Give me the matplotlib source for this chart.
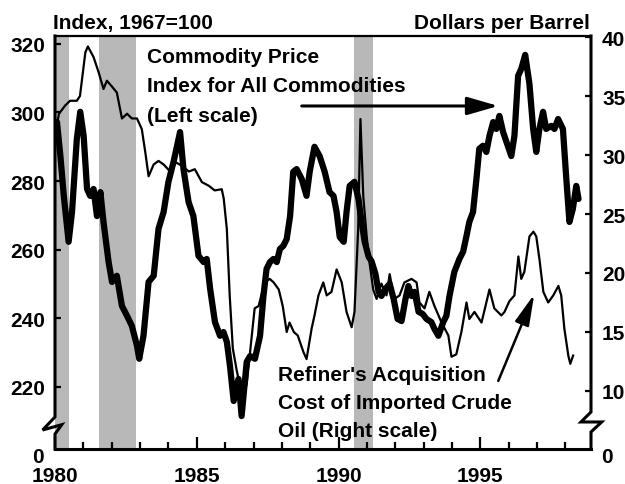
import matplotlib
matplotlib.use("Agg")
import matplotlib.pyplot as plt
from matplotlib.ticker import MultipleLocator

plt.rcParams["font.family"] = ["Liberation Sans", "DejaVu Sans"]
plt.rcParams["font.weight"] = "bold"

# Commodity price index, all commodities (left scale, 1967=100)
comm_years = [1980.07, 1980.19, 1980.31, 1980.48, 1980.60, 1980.77, 1980.89, 1981.01, 1981.13, 1981.24,
              1981.36, 1981.48, 1981.60, 1981.71, 1981.89, 1982.01, 1982.18, 1982.36, 1982.54, 1982.71,
              1982.89, 1982.97, 1983.12, 1983.30, 1983.48, 1983.65, 1983.83, 1984.00, 1984.18, 1984.41,
              1984.53, 1984.71, 1984.88, 1985.06, 1985.24, 1985.35, 1985.47, 1985.64, 1985.82, 1985.94,
              1986.06, 1986.17, 1986.30, 1986.47, 1986.58, 1986.76, 1986.88, 1987.05, 1987.23, 1987.35,
              1987.46, 1987.58, 1987.70, 1987.82, 1987.93, 1988.05, 1988.17, 1988.29, 1988.40, 1988.52,
              1988.70, 1988.87, 1988.98, 1989.15, 1989.33, 1989.51, 1989.68, 1989.82, 1989.93, 1990.04,
              1990.18, 1990.28, 1990.39, 1990.56, 1990.70, 1990.81, 1990.92, 1991.06, 1991.16, 1991.30,
              1991.41, 1991.51, 1991.65, 1991.80, 1991.94, 1992.08, 1992.22, 1992.36, 1992.46, 1992.57,
              1992.68, 1992.82, 1992.96, 1993.10, 1993.27, 1993.38, 1993.52, 1993.69, 1993.80, 1993.91,
              1994.08, 1994.26, 1994.39, 1994.51, 1994.61, 1994.74, 1994.86, 1994.96, 1995.09, 1995.21,
              1995.32, 1995.45, 1995.56, 1995.67, 1995.80, 1995.92, 1996.09, 1996.20, 1996.33, 1996.44,
              1996.58, 1996.73, 1996.86, 1996.97, 1997.08, 1997.21, 1997.32, 1997.50, 1997.61, 1997.74,
              1997.91, 1998.03, 1998.14, 1998.26, 1998.38, 1998.46]
comm_index = [297.2, 287.3, 275.7, 262.3, 271.0, 292.3, 300.2, 293.2, 277.7, 275.7,
              277.7, 269.8, 276.8, 268.1, 256.4, 250.6, 252.4, 243.6, 240.7, 237.8,
              232.0, 228.2, 234.9, 250.6, 252.4, 266.1, 271.0, 279.8, 285.6, 294.3,
              283.5, 273.9, 269.8, 258.2, 256.4, 257.3, 248.6, 238.9, 234.9, 236.0,
              233.1, 226.1, 215.9, 222.3, 211.5, 227.3, 229.0, 228.2, 234.9, 246.5,
              254.4, 256.4, 257.3, 256.4, 260.2, 261.1, 263.1, 269.8, 282.7, 283.5,
              280.6, 275.7, 282.7, 290.0, 287.3, 282.7, 276.8, 275.7, 271.0, 263.7,
              262.3, 271.0, 278.6, 279.8, 274.8, 268.1, 262.3, 257.9, 256.7, 252.9,
              247.7, 246.5, 248.6, 250.0, 245.7, 239.8, 239.2, 245.7, 249.4, 246.5,
              247.7, 241.9, 241.3, 239.8, 238.9, 236.9, 234.9, 238.9, 240.7, 246.5,
              253.5, 257.3, 259.4, 264.0, 268.1, 271.0, 280.6, 289.4, 290.3, 288.5,
              293.2, 297.2, 295.2, 299.0, 294.3, 291.4, 287.3, 293.2, 310.7, 312.7,
              316.8, 308.3, 295.2, 288.5, 295.2, 300.2, 295.2, 296.1, 295.2, 298.1,
              295.2, 280.6, 268.1, 271.9, 278.6, 274.8]

# Refiner's acquisition cost of imported crude oil (right scale, $/barrel)
oil_years = [1980.07, 1980.14, 1980.36, 1980.53, 1980.77, 1980.88, 1981.07, 1981.16, 1981.36, 1981.54,
             1981.71, 1981.83, 1982.01, 1982.18, 1982.36, 1982.54, 1982.71, 1982.89, 1983.06, 1983.18,
             1983.30, 1983.48, 1983.65, 1983.83, 1984.06, 1984.24, 1984.47, 1984.72, 1984.93, 1985.18,
             1985.42, 1985.63, 1985.88, 1985.95, 1986.06, 1986.16, 1986.27, 1986.41, 1986.51, 1986.62,
             1986.76, 1986.87, 1987.04, 1987.18, 1987.39, 1987.57, 1987.71, 1987.89, 1988.03, 1988.17,
             1988.27, 1988.42, 1988.56, 1988.76, 1988.87, 1989.05, 1989.15, 1989.29, 1989.46, 1989.58,
             1989.75, 1989.93, 1990.11, 1990.28, 1990.46, 1990.56, 1990.69, 1990.77, 1990.87, 1990.99,
             1991.09, 1991.22, 1991.34, 1991.51, 1991.69, 1991.80, 1991.97, 1992.15, 1992.32, 1992.57,
             1992.75, 1992.85, 1993.03, 1993.20, 1993.38, 1993.63, 1993.87, 1993.98, 1994.15, 1994.33,
             1994.51, 1994.61, 1994.79, 1995.04, 1995.21, 1995.32, 1995.49, 1995.74, 1995.85, 1996.02,
             1996.20, 1996.34, 1996.44, 1996.55, 1996.73, 1996.87, 1996.97, 1997.08, 1997.22, 1997.39,
             1997.57, 1997.75, 1997.85, 1997.96, 1998.10, 1998.17, 1998.27]
oil_cost = [32.6, 33.5, 34.2, 34.6, 34.6, 35.0, 38.7, 39.2, 38.3, 37.0,
            35.6, 36.3, 35.8, 35.3, 33.1, 33.5, 33.1, 33.1, 32.2, 30.3,
            28.2, 29.2, 29.5, 29.2, 28.6, 29.4, 29.1, 28.6, 28.8, 27.7,
            27.4, 27.0, 27.1, 26.3, 23.7, 18.1, 13.6, 11.7, 10.6, 9.3,
            10.6, 13.1, 17.0, 17.2, 19.2, 19.5, 19.2, 18.6, 17.2, 15.0,
            15.8, 15.0, 14.7, 13.3, 12.7, 15.3, 16.4, 18.1, 19.2, 18.1,
            18.4, 20.3, 19.2, 16.7, 15.4, 16.7, 23.7, 33.05, 26.5, 23.1,
            20.9, 18.6, 17.8, 19.1, 18.1, 19.9, 17.8, 18.1, 19.2, 19.5,
            19.2, 17.5, 17.0, 18.4, 17.2, 15.8, 14.7, 12.9, 13.1, 15.0,
            17.5, 16.1, 16.7, 15.8, 17.5, 18.6, 17.0, 16.4, 16.7, 17.6,
            18.1, 21.4, 19.5, 20.1, 23.1, 23.5, 23.1, 21.2, 18.4, 17.5,
            18.1, 18.9, 18.1, 15.3, 13.0, 12.3, 13.0]

# recessions (shaded)
recessions = [(1980.0, 1980.5), (1981.55, 1982.87), (1990.53, 1991.2)]

left_ticks = [220, 240, 260, 280, 300, 320]
right_ticks = [10, 15, 20, 25, 30, 35, 40]
year_ticks = [1980, 1985, 1990, 1995]

fig = plt.figure(figsize=(6.25, 4.85), dpi=100)
ax2 = fig.add_axes([0.088, 0.0722, 0.8576, 0.8515])
ax = ax2.twinx()
ax.yaxis.set_label_position("left")
ax.yaxis.tick_left()
ax2.yaxis.tick_right()
ax.set_zorder(ax2.get_zorder() + 1)
ax.patch.set_visible(False)
ax2.patch.set_visible(False)

for start, end in recessions:
    ax2.axvspan(start, end, color="#b8b8b8", lw=0, zorder=0)

ax2.plot(oil_years, oil_cost, color="black", lw=1.6, zorder=2)
ax.plot(comm_years, comm_index, color="black", lw=4.5, solid_joinstyle="round",
        solid_capstyle="round", zorder=3)

ax.set_xlim(1980, 1998.9)
ax.set_ylim(201.9, 322.3)
ax2.set_ylim(5.08, 40.09)

ax.set_yticks(left_ticks)
ax2.set_yticks(right_ticks)
ax2.set_xticks(year_ticks)
ax2.set_xticklabels([str(y) for y in year_ticks])
ax2.xaxis.set_minor_locator(MultipleLocator(1))

ax2.tick_params(axis="x", which="major", direction="in", length=9, width=1.6, pad=12, labelsize=15)
ax2.tick_params(axis="x", which="minor", direction="in", length=5, width=1.6)
ax.tick_params(axis="y", direction="in", length=4, width=1.6, pad=7, labelsize=15)
ax2.tick_params(axis="y", direction="in", length=4, width=1.6, pad=8, labelsize=15)
ax.tick_params(axis="x", which="both", length=0, labelbottom=False)

for a in (ax, ax2):
    for side in ("left", "right", "top", "bottom"):
        a.spines[side].set_visible(False)
ax2.spines["bottom"].set_visible(True)
ax2.spines["bottom"].set_linewidth(2.2)
ax2.spines["top"].set_visible(True)
ax2.spines["top"].set_linewidth(1.6)

# broken vertical axes drawn by hand
ax.plot([0, 0, -0.023, 0.0125, 0, 0], [1, 0.0775, 0.046, 0.0588, 0.0363, 0],
        transform=ax.transAxes, clip_on=False, color="black", lw=2.2, solid_joinstyle="miter")
ax.plot([1, 1, 0.9813, 1.02, 1, 1], [1, 0.0896, 0.0654, 0.0654, 0.0412, 0],
        transform=ax.transAxes, clip_on=False, color="black", lw=2.2, solid_joinstyle="miter")

fig.text(0.0608, 0.0557, "0", ha="center", va="center", fontsize=15)
fig.text(0.9712, 0.0557, "0", ha="center", va="center", fontsize=15)

fig.text(0.0848, 0.9402, "Index, 1967=100", ha="left", va="baseline", fontsize=15)
fig.text(0.944, 0.9402, "Dollars per Barrel", ha="right", va="baseline", fontsize=15)

comm_lines = ["Commodity Price", "Index for All Commodities", "(Left scale)"]
for line, yb in zip(comm_lines, [0.937, 0.8668, 0.794]):
    ax.text(0.1716, yb, line, transform=ax.transAxes, ha="left", va="baseline", fontsize=15)

oil_lines = ["Refiner's Acquisition", "Cost of Imported Crude", "Oil (Right scale)"]
for line, yb in zip(oil_lines, [0.167, 0.0993, 0.0315]):
    ax.text(0.416, yb, line, transform=ax.transAxes, ha="left", va="baseline", fontsize=15)

ax.annotate("", xy=(1995.63, 301.9), xytext=(1988.70, 301.9),
            arrowprops=dict(arrowstyle="-|>,head_length=1.9,head_width=0.55", mutation_scale=10,
                            lw=2.2, color="black", shrinkA=0, shrinkB=0))
ax2.annotate("", xy=(1996.90, 18.2), xytext=(1995.63, 10.85),
             arrowprops=dict(arrowstyle="-|>,head_length=1.9,head_width=0.45", mutation_scale=10,
                             lw=1.8, color="black", shrinkA=0, shrinkB=0))

plt.savefig("out.png", dpi=100)
